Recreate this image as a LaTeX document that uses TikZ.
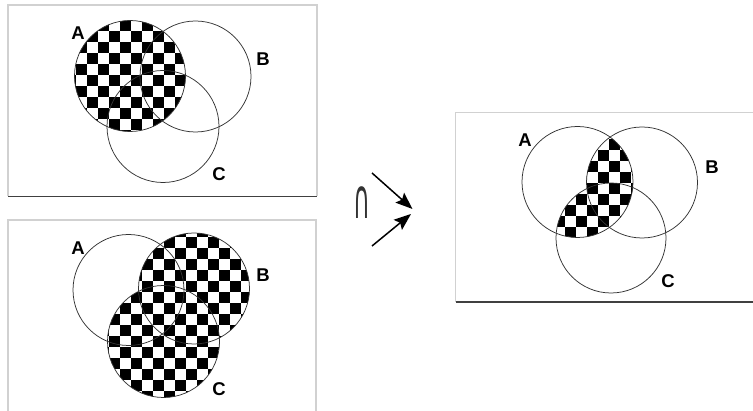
\documentclass[tikz,border=0pt]{standalone}
\usepackage{fontspec}
\setmainfont{Liberation Sans}
\newfontfamily\symfont{DejaVu Sans}
\usetikzlibrary{arrows.meta}
\newcommand\chkfill[4]{%
  \foreach \ci in {0,...,#3}{%
    \foreach \cj in {0,...,#4}{%
      \pgfmathtruncatemacro\chkpar{mod(\ci+\cj,2)}%
      \ifnum\chkpar=0 \fill[black] ({#1+11*\ci},{#2+11*\cj}) rectangle ++(11,11);\fi
    }}}
\tikzset{
  venn/.style={draw=black!80, line width=0.75pt},
  frameg/.style={draw=black!18, line width=1.4pt},
  framed/.style={draw=black!75, line width=1.4pt},
  lbl/.style={font=\fontsize{18.5}{18.5}\selectfont\bfseries, inner sep=0pt},
  arr/.style={line width=1.5pt, -{Stealth[length=17pt,width=13pt,inset=3pt]}},
}
\begin{document}
\begin{tikzpicture}[x=1pt,y=-1pt]
\useasboundingbox (0,0) rectangle (753,411);
% ---------- frames
\draw[frameg] (8,196) -- (8,5) -- (317,5) -- (317,196);
\draw[framed] (8,196.5) -- (317,196.5);
\draw[frameg] (8,413) -- (8,220) -- (316,220) -- (316,413);
\draw[frameg] (455.5,302) -- (455.5,112.5) -- (755,112.5);
\draw[framed] (455.5,302) -- (755,302);
% ---------- top panel: A
\begin{scope}
  \clip (130,76) circle[radius=55.5pt];
  \chkfill{64.5}{9.5}{13}{13}
\end{scope}
\draw[venn] (130,76) circle[radius=55.5pt];
\draw[venn] (195.5,76.5) circle[radius=55.5pt];
\draw[venn] (163,126.5) circle[radius=56pt];
\node[lbl] (tA) at (78,33) {A};
\node[lbl] (tB) at (263,59) {B};
\node[lbl] (tC) at (219,174) {C};
% ---------- bottom panel: B union C
\begin{scope}
  \clip (194,288.5) circle[radius=55.5pt];
  \chkfill{64.7}{226.3}{16}{16}
\end{scope}
\begin{scope}
  \clip (163.5,341.5) circle[radius=56pt];
  \chkfill{64.7}{226.3}{16}{16}
\end{scope}
\draw[venn] (128.5,290) circle[radius=55.5pt];
\draw[venn] (194,288.5) circle[radius=55.5pt];
\draw[venn] (163.5,341.5) circle[radius=56pt];
\node[lbl] (bA) at (78,248) {A};
\node[lbl] (bB) at (263,275) {B};
\node[lbl] (bC) at (219,389) {C};
% ---------- operator and arrows
\node[inner sep=0pt, text=black!80] (cap) at (362,203)
  {\scalebox{0.42}[1]{\symfont\fontsize{55}{55}\selectfont ∩}};
\coordinate (t1) at (372,173);
\coordinate (h1) at (412.5,209);
\coordinate (t2) at (372,246);
\coordinate (h2) at (411,214);
\draw[arr] (t1) -- (h1);
\draw[arr] (t2) -- (h2);
% ---------- right panel: A cap (B cup C)
\begin{scope}
  \clip (577.5,182) circle[radius=55.5pt];
  \clip (642,182.5) circle[radius=55.5pt];
  \chkfill{521.3}{117}{14}{14}
\end{scope}
\begin{scope}
  \clip (577.5,182) circle[radius=55.5pt];
  \clip (611,238) circle[radius=55pt];
  \chkfill{521.3}{117}{14}{14}
\end{scope}
\draw[venn] (577.5,182) circle[radius=55.5pt];
\draw[venn] (642,182.5) circle[radius=55.5pt];
\draw[venn] (611,238) circle[radius=55pt];
\node[lbl] (rA) at (525,140) {A};
\node[lbl] (rB) at (712,167) {B};
\node[lbl] (rC) at (668,281) {C};
\end{tikzpicture}
\end{document}
